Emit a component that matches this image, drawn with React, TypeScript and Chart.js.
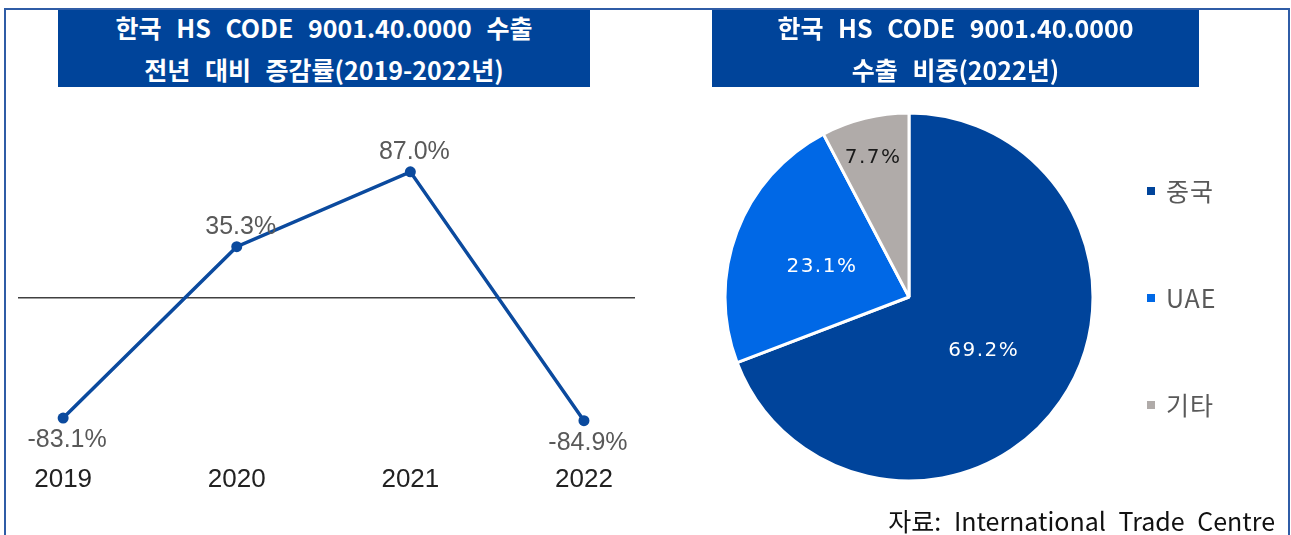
import React, { useEffect, useRef } from "react";
import { Chart, registerables } from "chart.js";

Chart.register(...registerables);

// ---- data ----
const years = ["2019", "2020", "2021", "2022"];
const growthRates = [-83.1, 35.3, 87.0, -84.9];
const shareLabels = ["중국", "UAE", "기타"];
const shareValues = [69.2, 23.1, 7.7];
const shareColors = ["#00449b", "#0068e6", "#b0aba9"];
const shareLabelColors = ["#ffffff", "#ffffff", "#1a1a1a"];
const leftTitle = ["한국 HS CODE 9001.40.0000 수출", "전년 대비 증감률(2019-2022년)"];
const rightTitle = ["한국 HS CODE 9001.40.0000", "수출 비중(2022년)"];
const sourceText = "자료: International Trade Centre";

const LINE_COLOR = "#0b4a9e";
const TITLE_BG = "#00449a";

const lineLabelPlugin = {
  id: "lineLabels",
  afterDatasetsDraw(chart: any) {
    const ctx = chart.ctx;
    const meta = chart.getDatasetMeta(0);
    ctx.save();
    ctx.font = '25px "Liberation Sans"';
    ctx.fillStyle = "#595959";
    ctx.textAlign = "center";
    ctx.textBaseline = "middle";
    meta.data.forEach((pt: any, i: number) => {
      const v = growthRates[i];
      const y = v >= 0 ? pt.y - 20 : pt.y + 22;
      ctx.fillText(v.toFixed(1) + "%", pt.x + 4, y);
    });
    ctx.restore();
  },
};

const pieLabelPlugin = {
  id: "pieLabels",
  afterDatasetsDraw(chart: any) {
    const ctx = chart.ctx;
    const meta = chart.getDatasetMeta(0);
    ctx.save();
    ctx.font = '20px "DejaVu Sans"';
    (ctx as any).letterSpacing = "1.5px";
    ctx.textAlign = "center";
    ctx.textBaseline = "middle";
    meta.data.forEach((arc: any, i: number) => {
      const { x, y, startAngle, endAngle, outerRadius } = arc.getProps(
        ["x", "y", "startAngle", "endAngle", "outerRadius"],
        true
      );
      const mid = (startAngle + endAngle) / 2;
      const f = shareValues[i] < 10 ? 0.79 : 0.5;
      const lx = x + Math.cos(mid) * outerRadius * f;
      const ly = y + Math.sin(mid) * outerRadius * f;
      ctx.fillStyle = shareLabelColors[i];
      ctx.fillText(shareValues[i].toFixed(1) + "%", lx - 1, ly + 2);
    });
    ctx.restore();
  },
};

const pieLegendPlugin = {
  id: "pieLegend",
  afterDraw(chart: any) {
    const ctx = chart.ctx;
    const ys = [96, 203, 310];
    ctx.save();
    ctx.font = '25px "Noto Sans CJK KR"';
    (ctx as any).letterSpacing = "1px";
    ctx.textAlign = "left";
    ctx.textBaseline = "middle";
    shareLabels.forEach((lab, i) => {
      const y = ys[i];
      ctx.fillStyle = shareColors[i];
      ctx.fillRect(447, y - 4, 8, 8);
      ctx.fillStyle = "#595959";
      ctx.fillText(lab, 466, y);
    });
    ctx.restore();
  },
};

function LineChart() {
  const ref = useRef<HTMLCanvasElement | null>(null);
  useEffect(() => {
    if (!ref.current) return;
    const chart = new Chart(ref.current, {
      type: "line",
      data: {
        datasets: [
          {
            data: growthRates.map((v, i) => ({ x: i, y: v })),
            borderColor: LINE_COLOR,
            backgroundColor: LINE_COLOR,
            borderWidth: 3.5,
            pointRadius: 5.5,
            pointBackgroundColor: LINE_COLOR,
            pointBorderWidth: 0,
            tension: 0,
          },
        ],
      },
      options: {
        animation: false,
        responsive: false,
        layout: { padding: { left: 18, right: 25, top: 153, bottom: 26 } },
        plugins: { legend: { display: false }, tooltip: { enabled: false } },
        scales: {
          x: {
            type: "linear",
            min: -0.26,
            max: 3.294,
            afterBuildTicks: (s: any) => {
              s.ticks = years.map((_, i) => ({ value: i }));
            },
            ticks: {
              callback: (v: any) => years[v as number],
              font: { family: "Liberation Sans", size: 26 },
              color: "#222222",
              padding: 14,
              maxRotation: 0,
              autoSkip: false,
            },
            grid: { display: false, drawTicks: false },
            border: { display: false },
          },
          y: {
            min: -105,
            max: 100,
            ticks: { display: false, stepSize: 5 },
            grid: {
              color: (c: any) => (c.tick && c.tick.value === 0 ? "#404040" : "rgba(0,0,0,0)"),
              lineWidth: 1.5,
              drawTicks: false,
            },
            border: { display: false },
          },
        },
      },
      plugins: [lineLabelPlugin],
    } as any);
    return () => chart.destroy();
  }, []);
  return (
    <canvas
      ref={ref}
      width={660}
      height={535}
      style={{ position: "absolute", left: 0, top: 0, width: 660, height: 535 }}
    />
  );
}

function PieChart() {
  const ref = useRef<HTMLCanvasElement | null>(null);
  useEffect(() => {
    if (!ref.current) return;
    const chart = new Chart(ref.current, {
      type: "pie",
      data: {
        labels: shareLabels,
        datasets: [
          {
            data: shareValues,
            backgroundColor: shareColors,
            borderColor: "#ffffff",
            borderWidth: 3,
            radius: 184,
          },
        ],
      },
      options: {
        animation: false,
        responsive: false,
        layout: { padding: { left: 20, right: 193, top: 10, bottom: 46 } },
        plugins: { legend: { display: false }, tooltip: { enabled: false } },
      },
      plugins: [pieLabelPlugin, pieLegendPlugin],
    } as any);
    return () => chart.destroy();
  }, []);
  return (
    <canvas
      ref={ref}
      width={591}
      height={440}
      style={{ position: "absolute", left: 700, top: 95, width: 591, height: 440 }}
    />
  );
}

function TitleBox({ lines, left, width }: { lines: string[]; left: number; width: number }) {
  return (
    <div
      style={{
        position: "absolute",
        left,
        top: 10,
        width,
        height: 77,
        background: TITLE_BG,
        color: "#ffffff",
        fontFamily: '"Noto Sans CJK KR", sans-serif',
        fontWeight: 700,
        fontSize: 25,
        textAlign: "center",
        overflow: "hidden",
      }}
    >
      <div style={{ position: "relative", top: -4, lineHeight: "42px", wordSpacing: 9 }}>
        {lines.map((l, i) => (
          <div key={i}>{l}</div>
        ))}
      </div>
    </div>
  );
}

export default function App() {
  return (
    <div
      style={{
        position: "fixed",
        left: 0,
        top: 0,
        width: 1291,
        height: 535,
        overflow: "hidden",
        background: "#ffffff",
      }}
    >
      <div
        style={{
          position: "absolute",
          left: 4,
          top: 8,
          width: 1286,
          height: 600,
          boxSizing: "border-box",
          border: "2px solid #2f5ca6",
        }}
      />
      <LineChart />
      <PieChart />
      <TitleBox lines={leftTitle} left={58} width={532} />
      <TitleBox lines={rightTitle} left={712} width={487} />
      <div
        style={{
          position: "absolute",
          right: 16,
          top: 505,
          fontFamily: '"Noto Sans CJK KR", sans-serif',
          fontSize: 25,
          lineHeight: "30px",
          color: "#111111",
          wordSpacing: 7,
          whiteSpace: "nowrap",
        }}
      >
        {sourceText}
      </div>
    </div>
  );
}
